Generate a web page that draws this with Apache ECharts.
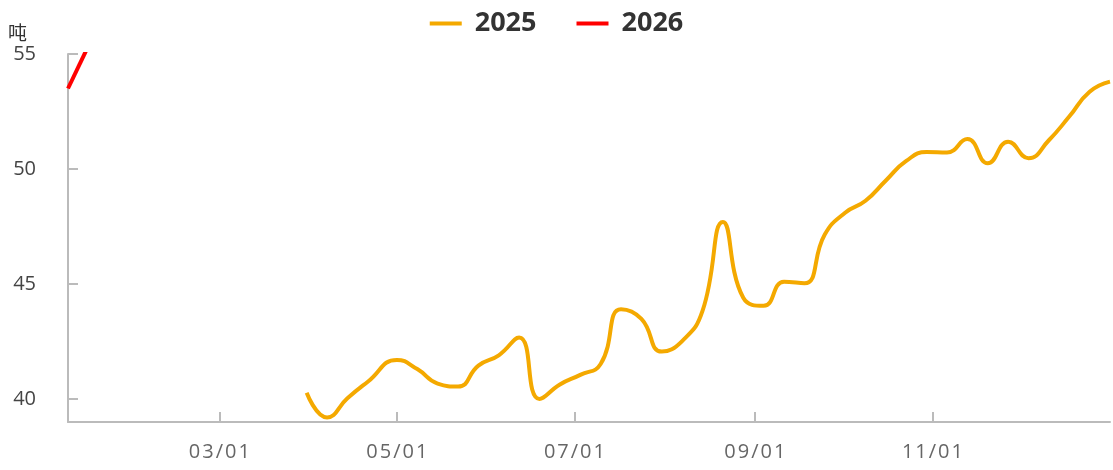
<!DOCTYPE html>
<html>
<head>
<meta charset="utf-8">
<script src="https://cdn.jsdelivr.net/npm/echarts@6/dist/echarts.min.js"></script>
<style>
  html, body { margin: 0; padding: 0; background: #fff; }
  #weeklyPriceChart { width: 1113px; height: 470px; }
</style>
</head>
<body>
<div id="weeklyPriceChart"></div>
<script>
// 两年数据都映射到同一时间轴上（按月/日对齐）
const dates2025 = [
  '2025-03-31', '2025-04-07', '2025-04-14', '2025-04-21', '2025-05-01', '2025-05-08',
  '2025-05-15', '2025-05-22', '2025-05-29', '2025-06-05', '2025-06-12', '2025-06-19',
  '2025-06-26', '2025-07-03', '2025-07-10', '2025-07-17', '2025-07-24', '2025-07-31',
  '2025-08-07', '2025-08-14', '2025-08-21', '2025-08-28', '2025-09-04', '2025-09-11',
  '2025-09-18', '2025-09-25', '2025-10-02', '2025-10-09', '2025-10-16', '2025-10-23',
  '2025-10-30', '2025-11-06', '2025-11-13', '2025-11-20', '2025-11-27', '2025-12-04',
  '2025-12-11', '2025-12-18', '2025-12-25', '2026-01-01'
]
const values2025 = [
  40.27, 39.2, 40.03, 40.75, 41.7, 41.3,
  40.67, 40.54, 41.45, 41.9, 42.67, 40.0,
  40.63, 41.05, 41.52, 43.9, 43.48, 42.06,
  42.52, 43.83, 47.7, 44.4, 44.05, 45.1,
  45.03, 47.15, 48.1, 48.62, 49.5, 50.35,
  50.74, 50.72, 51.3, 50.25, 51.19, 50.47,
  51.25, 52.28, 53.36, 53.8
]
const dates2026 = ['2025-01-08', '2025-01-15']
const values2026 = [53.5, 55.35]
const xTickDates = ['2025-03-01', '2025-05-01', '2025-07-01', '2025-09-01', '2025-11-01']
const yTickValues = [40, 45, 50, 55]

const ts = (d) => +new Date(d + 'T00:00:00')
const pair = (ds, vs) => ds.map((d, i) => [ts(d), vs[i]])
const pad = (n) => (n < 10 ? '0' + n : '' + n)
const fontFamily = '"Open Sans", "Noto Sans CJK SC", sans-serif'

const option = {
  color: ['#f4a900', '#ff0000'],
  legend: {
    top: 5,
    left: 'center',
    icon: 'rect',
    itemWidth: 32,
    itemHeight: 4,
    itemGap: 40,
    textStyle: {
      fontFamily: fontFamily,
      fontSize: 27,
      fontWeight: 'bold',
      color: '#333',
      padding: [0, 0, 0, 8],
    },
  },
  grid: {
    left: 68,
    right: 3,
    top: 54,
    bottom: 48,
    containLabel: false,
  },
  xAxis: {
    type: 'value',
    min: ts('2025-01-08'),
    max: ts('2026-01-01'),
    axisLine: { lineStyle: { color: '#bbb', width: 2 } },
    axisTick: {
      inside: true,
      length: 10,
      lineStyle: { color: '#bbb', width: 2 },
      customValues: xTickDates.map(ts),
    },
    axisLabel: {
      color: '#666',
      fontFamily: fontFamily,
      fontSize: 20,
      margin: 20,
      customValues: xTickDates.map(ts),
      formatter: function (v) {
        const d = new Date(v)
        // 标签字距稍宽
        return (pad(d.getMonth() + 1) + '/' + pad(d.getDate())).split('').join('\u200a')
      },
    },
    splitLine: { show: false },
  },
  yAxis: {
    type: 'value',
    min: 39,
    max: 55,
    name: '吨',
    nameGap: 7,
    nameTextStyle: {
      fontFamily: fontFamily,
      fontSize: 19,
      color: '#333',
      align: 'right',
      padding: [0, 41, 0, 0],
    },
    axisLine: { show: true, lineStyle: { color: '#bbb', width: 2 } },
    axisTick: {
      show: true,
      inside: true,
      length: 10,
      lineStyle: { color: '#bbb', width: 2 },
      customValues: yTickValues,
    },
    axisLabel: {
      color: '#444',
      fontFamily: fontFamily,
      fontSize: 20,
      margin: 32,
      customValues: yTickValues,
    },
    splitLine: { show: false },
  },
  series: [
    {
      name: '2025',
      type: 'line',
      smooth: true,
      symbol: 'none',
      lineStyle: { width: 4 },
      data: pair(dates2025, values2025),
    },
    {
      name: '2026',
      type: 'line',
      smooth: true,
      symbol: 'none',
      lineStyle: { width: 4 },
      data: pair(dates2026, values2026),
    },
  ],
}

const chart = echarts.init(document.getElementById('weeklyPriceChart'))
chart.setOption(option)
window.onresize = function () {
  chart.resize()
}
</script>
</body>
</html>
